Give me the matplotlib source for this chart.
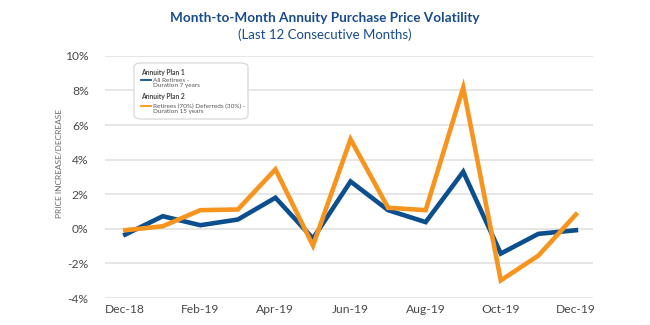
import matplotlib
matplotlib.use('Agg')
import matplotlib.pyplot as plt
from matplotlib.patches import FancyBboxPatch
from matplotlib.lines import Line2D

plt.rcParams['font.family'] = ['Lato', 'DejaVu Sans']

months = ['Dec-18', 'Jan-19', 'Feb-19', 'Mar-19', 'Apr-19', 'May-19', 'Jun-19',
          'Jul-19', 'Aug-19', 'Sep-19', 'Oct-19', 'Nov-19', 'Dec-19']
plan1 = [-0.33, 0.73, 0.21, 0.54, 1.80, -0.56, 2.74, 1.08, 0.39, 3.30, -1.43, -0.29, -0.08]
plan2 = [-0.08, 0.15, 1.08, 1.12, 3.44, -0.97, 5.18, 1.22, 1.08, 8.17, -2.98, -1.55, 0.83]
yticks = [-4, -2, 0, 2, 4, 6, 8, 10]

blue = '#0b4f8f'
orange = '#f7941d'
title_blue = '#184c8c'

fig = plt.figure(figsize=(6.5, 3.25), dpi=100)
ax = fig.add_axes([0.162, 0.083, 0.75, 0.745])

x = list(range(len(months)))
ax.plot(x, plan1, color=blue, lw=3.3, solid_joinstyle='miter', zorder=3)
ax.plot(x, plan2, color=orange, lw=3.3, solid_joinstyle='miter', zorder=4)

ax.set_xlim(-0.53, 12.45)
ax.set_ylim(-4, 10)
ax.set_yticks(yticks)
ax.set_yticklabels([f'{v}%' for v in yticks])
ax.set_xticks(x[::2])
ax.set_xticklabels(months[::2])
ax.grid(axis='y', color='#e4e4e4', lw=1.3)
ax.set_axisbelow(True)
for s in ax.spines.values():
    s.set_visible(False)
ax.tick_params(length=0, labelsize=8.7, labelcolor='#4a4a4a', pad=6)
ax.tick_params(axis='y', pad=12)
ax.tick_params(axis='x', pad=4)

ax.set_ylabel('PRICE INCREASE/DECREASE', fontsize=6, color='#6a6a6a')
ax.yaxis.set_label_coords(-0.086, 0.554)

fig.text(0.5, 0.945, 'Month-to-Month Annuity Purchase Price Volatility',
         ha='center', va='center', fontsize=9.8, fontweight='bold', color=title_blue)
fig.text(0.5, 0.893, '(Last 12 Consecutive Months)',
         ha='center', va='center', fontsize=9.5, color=title_blue)

# legend box, figure pixels converted to fraction
W, H = 650, 325
def fx(px):
    return px / W
def fy(py):
    return 1 - py / H

box = FancyBboxPatch((fx(134), fy(119)), fx(248) - fx(134), fy(63) - fy(119),
                     boxstyle='round,pad=0,rounding_size=0.012',
                     transform=fig.transFigure, facecolor='white',
                     edgecolor='#d8d8d8', lw=0.9, zorder=5)
fig.patches.append(box)

fig.text(fx(141), fy(72), 'Annuity Plan 1', fontsize=4.9, fontweight='bold',
         color='#444444', va='center', zorder=6)
fig.lines.append(Line2D([fx(141), fx(151)], [fy(80), fy(80)], color=blue, lw=1.3,
                        transform=fig.transFigure, zorder=6))
fig.text(fx(153), fy(83), 'All Retirees -\nDuration 7 years', fontsize=4.6,
         color='#555555', va='center', linespacing=1.1, zorder=6)
fig.text(fx(141), fy(97), 'Annuity Plan 2', fontsize=4.9, fontweight='bold',
         color='#444444', va='center', zorder=6)
fig.lines.append(Line2D([fx(141), fx(151)], [fy(106), fy(106)], color=orange, lw=1.3,
                        transform=fig.transFigure, zorder=6))
fig.text(fx(153), fy(109), 'Retirees (70%) Deferreds (30%) -\nDuration 15 years',
         fontsize=4.6, color='#555555', va='center', linespacing=1.1, zorder=6)

fig.savefig('out.png', dpi=100)
